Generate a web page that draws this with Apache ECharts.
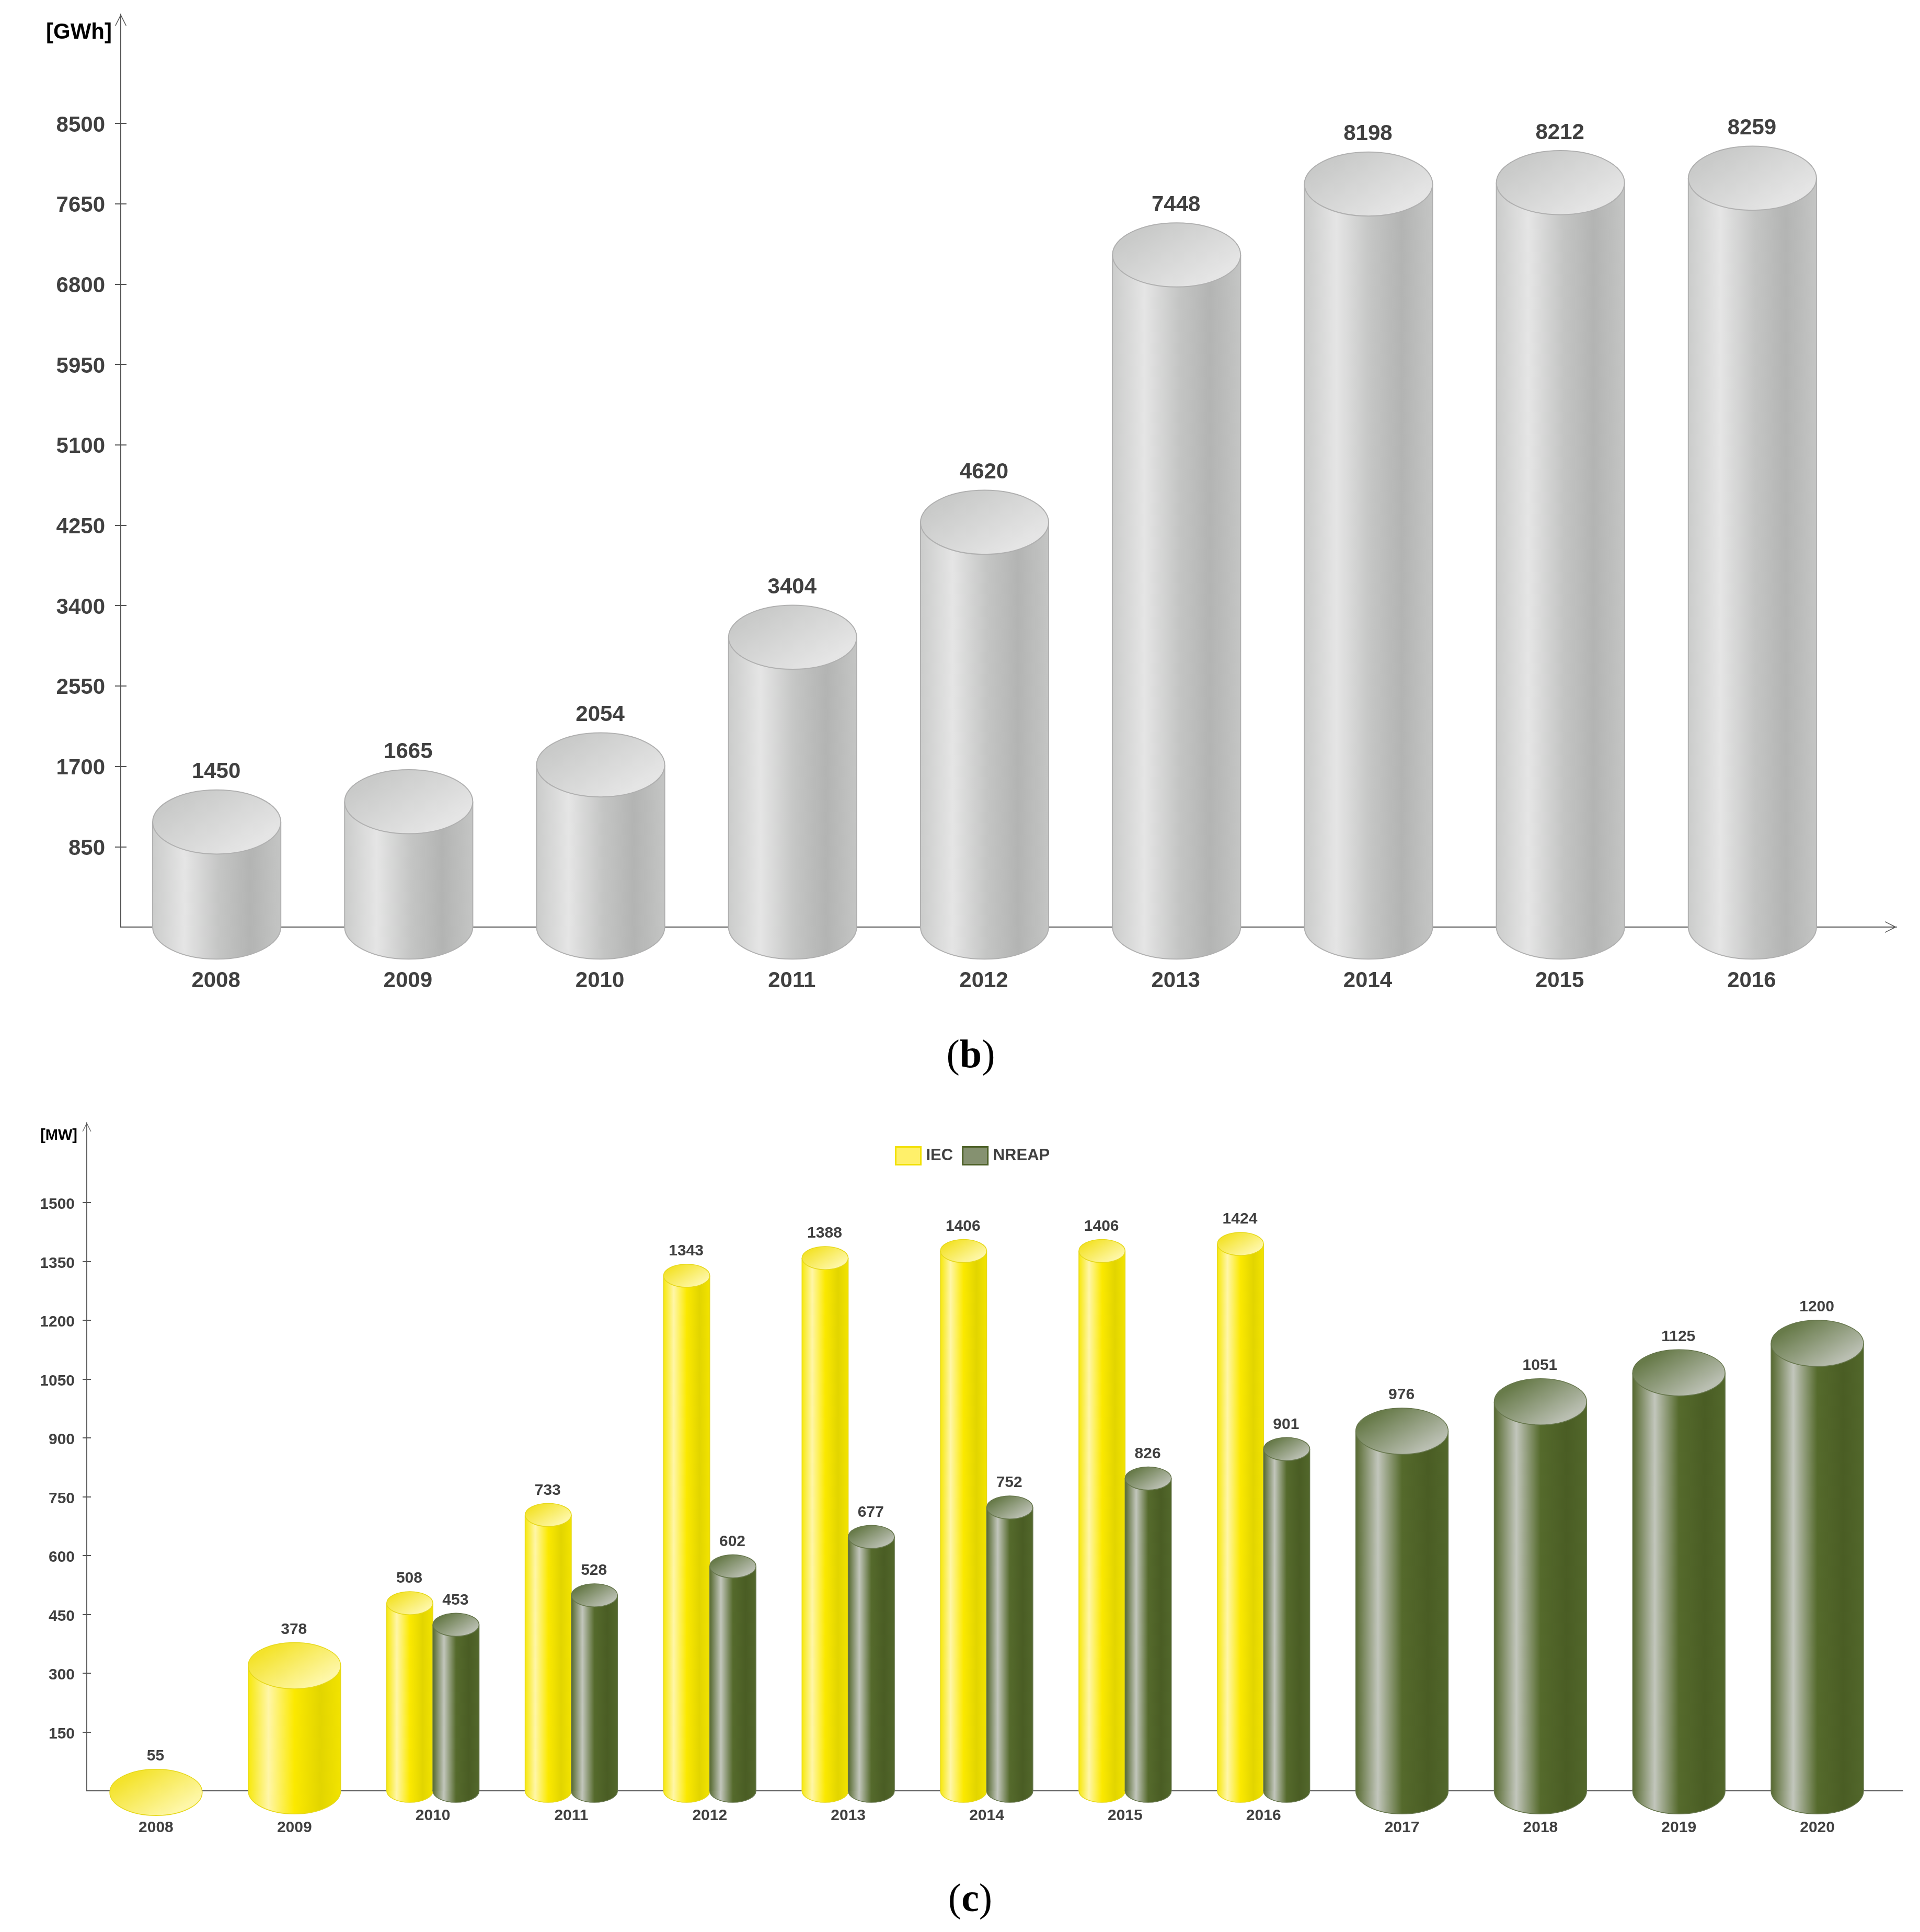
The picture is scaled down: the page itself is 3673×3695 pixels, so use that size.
<!DOCTYPE html>
<html>
<head>
<meta charset="utf-8">
<style>html,body{margin:0;padding:0;background:#fff}#c{width:3673px;height:3695px}</style>
<script src="https://cdn.jsdelivr.net/npm/echarts@6/dist/echarts.min.js"></script>
</head>
<body>
<div id="c"></div>
<script>
// ---- chart (b) data
const yearsB = ['2008','2009','2010','2011','2012','2013','2014','2015','2016'];
const generationGWh = [1450,1665,2054,3404,4620,7448,8198,8212,8259];
const ticksGWh = [850,1700,2550,3400,4250,5100,5950,6800,7650,8500];
// ---- chart (c) data
const yearsC = ['2008','2009','2010','2011','2012','2013','2014','2015','2016','2017','2018','2019','2020'];
const iecMW = [55,378,508,733,1343,1388,1406,1406,1424,null,null,null,null];
const nreapMW = [null,null,453,528,602,677,752,826,901,976,1051,1125,1200];
const ticksMW = [150,300,450,600,750,900,1050,1200,1350,1500];

const FONT = '"Liberation Sans", Arial, sans-serif';
const TXT = '#404040', AX = '#555555';
const chevron = 'path://M0,22 L11,0 L22,22 L20.4,22 L11,3.4 L1.6,22 Z';

function hGrad(stops){
  return {type:'linear',x:0,y:0,x2:1,y2:0,colorStops:stops.map(s=>({offset:s[0],color:s[1]}))};
}
function vGrad(a,b){
  return {type:'linear',x:0.35,y:0,x2:0.65,y2:1,colorStops:[{offset:0,color:a},{offset:1,color:b}]};
}
const skinGrey = {
  side:hGrad([[0,'#cbcccb'],[0.25,'#e5e5e5'],[0.52,'#c4c5c4'],[0.76,'#b3b4b3'],[1,'#c4c5c4']]),
  top:vGrad('#c9cac9','#e5e5e5'), line:'#b0b0b0', lw:2
};
const skinYellow = {
  side:hGrad([[0,'#f7e80a'],[0.22,'#fff6a8'],[0.5,'#fbe900'],[0.78,'#e2d500'],[1,'#f2e300']]),
  top:vGrad('#f4e32c','#fef7a8'), line:'#e6d81a', lw:1.5
};
const skinGreen = {
  side:hGrad([[0,'#56692f'],[0.24,'#c2c6bc'],[0.5,'#556a2c'],[0.78,'#4a5d24'],[1,'#52672b']]),
  top:vGrad('#687b4a','#babfb2'), line:'#66764c', lw:1.5
};

// Cylinder drawn from the axes' own scales: top of ellipse = value, base ellipse centred on the axis.
function cylinder(skin, fontSize, labelGap, widthOf, offsetOf){
  return function(params, api){
    const idx = api.value(0), val = api.value(1);
    if (val == null || isNaN(val)) return null;
    const band = api.size([1,0])[0];
    const w = band * widthOf(idx);
    const cx = api.coord([idx,0])[0] + band * offsetOf(idx);
    const base = api.coord([idx,0])[1];
    const topY = api.coord([idx,val])[1];
    const rx = w/2, ry = w/4;
    const cyTop = topY + ry;
    const h = Math.max(0, base - cyTop);
    const kids = [];
    if (h > 0) {
      kids.push({type:'ellipse',shape:{cx:cx,cy:base,rx:rx,ry:ry},style:{fill:skin.side,stroke:skin.line,lineWidth:skin.lw}});
      kids.push({type:'rect',shape:{x:cx-rx,y:cyTop,width:w,height:h},style:{fill:skin.side}});
      kids.push({type:'line',shape:{x1:cx-rx,y1:cyTop,x2:cx-rx,y2:base},style:{stroke:skin.line,lineWidth:skin.lw}});
      kids.push({type:'line',shape:{x1:cx+rx,y1:cyTop,x2:cx+rx,y2:base},style:{stroke:skin.line,lineWidth:skin.lw}});
    }
    kids.push({type:'ellipse',shape:{cx:cx,cy:cyTop,rx:rx,ry:ry},style:{fill:skin.top,stroke:skin.line,lineWidth:skin.lw}});
    kids.push({type:'text',style:{x:cx-1,y:topY-labelGap,text:String(val),fill:TXT,
      fontFamily:FONT,fontWeight:'bold',fontSize:fontSize,align:'center',verticalAlign:'middle'}});
    return {type:'group',children:kids};
  };
}
const pairs = a => a.map((v,i)=>[i,v]);
const THIRD2 = 245/367, THIRD1 = THIRD2/2;
const both = i => iecMW[i] != null && nreapMW[i] != null;
const nudged = v => '{a|' + v + '}';
const nudgedRich = size => ({a:{fontFamily:FONT,fontWeight:'bold',fontSize:size,color:TXT,padding:[8,0,0,0]}});

const hiddenX = gi => ({gridIndex:gi,type:'value',min:0,max:1,axisLabel:{show:false},axisTick:{show:false},splitLine:{show:false}});

const option = {
  animation:false,
  backgroundColor:'#fff',
  title:[
    {text:'({b|b})',left:1852,top:2016,textAlign:'center',textVerticalAlign:'middle',
     textStyle:{fontFamily:'"Liberation Serif",serif',fontWeight:'normal',fontSize:76,color:'#000',
       rich:{b:{fontFamily:'"Liberation Serif",serif',fontWeight:'bold',fontSize:76,color:'#000'}}}},
    {text:'({b|c})',left:1851,top:3630,textAlign:'center',textVerticalAlign:'middle',
     textStyle:{fontFamily:'"Liberation Serif",serif',fontWeight:'normal',fontSize:76,color:'#000',
       rich:{b:{fontFamily:'"Liberation Serif",serif',fontWeight:'bold',fontSize:76,color:'#000'}}}}
  ],
  legend:{
    left:1707,top:2187,orient:'horizontal',icon:'rect',itemWidth:48,itemHeight:34,itemGap:17,selectedMode:false,
    textStyle:{fontFamily:FONT,fontWeight:'bold',fontSize:31,color:TXT,padding:[0,0,0,5]},
    data:[
      {name:'IEC',itemStyle:{color:'#fff06a',borderColor:'#f2e000',borderWidth:3}},
      {name:'NREAP',itemStyle:{color:'#859170',borderColor:'#4e6128',borderWidth:3}}
    ]
  },
  grid:[
    {left:231,top:27,width:3305,height:1746},
    {left:231,top:27,width:3397,height:1746},
    {left:166,top:2147,width:3443,height:1278},
    {left:166,top:2147,width:3474,height:1278}
  ],
  xAxis:[
    {gridIndex:0,type:'category',data:yearsB,axisLine:{show:false},axisTick:{show:false},
     axisLabel:{margin:82,fontFamily:FONT,fontWeight:'bold',fontSize:42,color:TXT,interval:0,padding:[0,3,0,0]}},
    Object.assign(hiddenX(1),{axisLine:{show:true,lineStyle:{color:AX,width:2},symbol:['none',chevron],symbolSize:[22,22],symbolOffset:[0,-11]}}),
    {gridIndex:2,type:'category',data:yearsC,axisLine:{show:false},axisTick:{show:false},
     axisLabel:{margin:0,interval:0,fontFamily:FONT,fontWeight:'bold',fontSize:30,color:TXT,
       formatter:(v,i)=> both(i) ? '{n|'+v+'}' : '{w|'+v+'}',
       rich:{n:{fontFamily:FONT,fontWeight:'bold',fontSize:30,color:TXT,padding:[33,0,0,0]},
             w:{fontFamily:FONT,fontWeight:'bold',fontSize:30,color:TXT,padding:[56,0,0,0]}}}},
    Object.assign(hiddenX(3),{axisLine:{show:true,lineStyle:{color:AX,width:2}}})
  ],
  yAxis:[
    {gridIndex:0,type:'value',min:0,max:9656,splitLine:{show:false},
     name:'[GWh]',nameLocation:'end',nameGap:-35,
     nameTextStyle:{fontFamily:FONT,fontWeight:'bold',fontSize:42,color:'#000',align:'right',verticalAlign:'middle',padding:[0,17,0,0]},
     axisLine:{show:true,lineStyle:{color:AX,width:2}},
     axisTick:{show:true,length:11,customValues:ticksGWh,lineStyle:{color:AX,width:2}},
     axisLabel:{customValues:ticksGWh,formatter:nudged,rich:nudgedRich(42),margin:30,fontFamily:FONT,fontWeight:'bold',fontSize:42,color:TXT}},
    {gridIndex:1,type:'value',min:0,max:9656,splitLine:{show:false},
     axisLine:{show:true,lineStyle:{color:AX,width:2},symbol:['none',chevron],symbolSize:[22,22],symbolOffset:[0,-11]},
     axisTick:{show:true,inside:true,length:11,customValues:ticksGWh,lineStyle:{color:AX,width:2}},
     axisLabel:{show:false}},
    {gridIndex:2,type:'value',min:0,max:1704,splitLine:{show:false},
     name:'[MW]',nameLocation:'end',nameGap:-25,
     nameTextStyle:{fontFamily:FONT,fontWeight:'bold',fontSize:29,color:'#000',align:'right',verticalAlign:'middle',padding:[0,18,0,0]},
     axisLine:{show:true,lineStyle:{color:AX,width:1.5}},
     axisTick:{show:true,length:8,customValues:ticksMW,lineStyle:{color:AX,width:2}},
     axisLabel:{customValues:ticksMW,formatter:nudged,rich:nudgedRich(30),margin:23,fontFamily:FONT,fontWeight:'bold',fontSize:30,color:TXT}},
    {gridIndex:3,type:'value',min:0,max:1704,splitLine:{show:false},
     axisLine:{show:true,lineStyle:{color:AX,width:1.5},symbol:['none',chevron],symbolSize:[17,17],symbolOffset:[0,-8.5]},
     axisTick:{show:true,inside:true,length:8,customValues:ticksMW,lineStyle:{color:AX,width:2}},
     axisLabel:{show:false}}
  ],
  series:[
    {type:'custom',name:'Generation',xAxisIndex:0,yAxisIndex:0,encode:{x:0,y:1},data:pairs(generationGWh),
     renderItem:cylinder(skinGrey,42,34,()=>THIRD2,()=>0)},
    {type:'custom',name:'IEC',xAxisIndex:2,yAxisIndex:2,encode:{x:0,y:1},data:pairs(iecMW),
     itemStyle:{color:'#fff06a'},
     renderItem:cylinder(skinYellow,30,25,i=>both(i)?THIRD1:THIRD2,i=>both(i)?-THIRD1/2:0)},
    {type:'custom',name:'NREAP',xAxisIndex:2,yAxisIndex:2,encode:{x:0,y:1},data:pairs(nreapMW),
     itemStyle:{color:'#859170'},
     renderItem:cylinder(skinGreen,30,25,i=>both(i)?THIRD1:THIRD2,i=>both(i)?THIRD1/2:0)}
  ]
};
const chart = echarts.init(document.getElementById('c'),null,{renderer:'canvas',width:3673,height:3695});
chart.setOption(option);
</script>
</body>
</html>
